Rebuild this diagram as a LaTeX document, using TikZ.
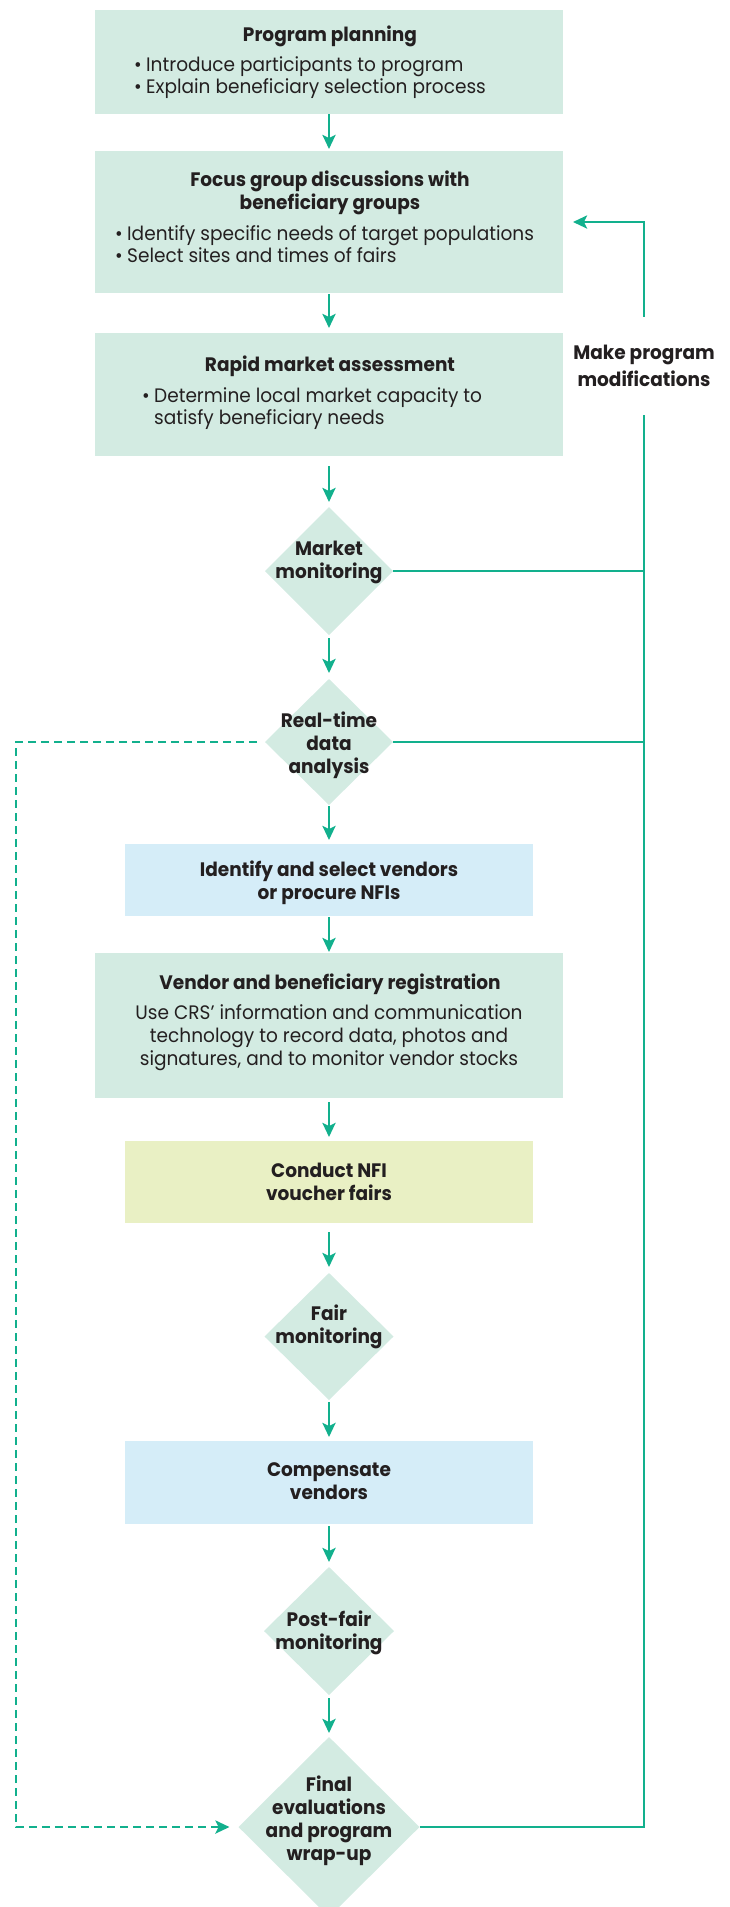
\documentclass[tikz,border=0pt]{standalone}
\usepackage{fontspec}
\setmainfont{Poppins}[FakeStretch=0.95]
\usetikzlibrary{arrows.meta,shapes.geometric}
\definecolor{mint}{HTML}{D3EBE2}
\definecolor{sky}{HTML}{D5EDF8}
\definecolor{lime}{HTML}{E9F0C4}
\definecolor{teal}{HTML}{12B08D}
\definecolor{ink}{HTML}{231F20}
\tikzset{
  boxbase/.style={inner sep=0pt, outer sep=0pt, draw=none},
  wide/.style={boxbase, minimum width=468pt},
  narrow/.style={boxbase, minimum width=408pt},
  dia/.style={shape=diamond, inner sep=0pt, outer sep=0pt, fill=mint, draw=none},
  ttl/.style={inner sep=0pt, text=ink, align=center, anchor=base,
    font=\fontsize{19.5}{23}\selectfont\bfseries},
  bodytxt/.style={inner sep=0pt, text=ink, align=left, anchor=base west,
    font=\fontsize{19.5}{22}\selectfont},
  conn/.style={draw=teal, line width=2.6pt},
  arr/.style={conn, -{Stealth[length=14pt,width=13pt,inset=3pt]}},
  dashline/.style={draw=teal, line width=2.6pt, dash pattern=on 8pt off 5pt,
    -{Stealth[length=14pt,width=13pt,inset=3pt]}},
}
\newcommand{\bul}{\makebox[12pt][l]{•}}
\begin{document}
\begin{tikzpicture}[x=1pt,y=-1pt]
\path[use as bounding box] (0,0) rectangle (729,1907);
\clip (0,0) rectangle (729,1907);
% boxes
\node[wide, fill=mint, minimum height=104pt] (b1) at (329,62) {};
\node[wide, fill=mint, minimum height=142pt] (b2) at (329,222) {};
\node[wide, fill=mint, minimum height=123pt] (b3) at (329,394.5) {};
\node[dia, minimum width=128pt, minimum height=128pt] (d1) at (329,571) {};
\node[dia, minimum width=128pt, minimum height=126pt] (d2) at (329,742) {};
\node[narrow, fill=sky, minimum height=72pt] (b4) at (329,880) {};
\node[wide, fill=mint, minimum height=145pt] (b5) at (329,1025.5) {};
\node[narrow, fill=lime, minimum height=82pt] (b6) at (329,1182) {};
\node[dia, minimum width=129pt, minimum height=127pt] (d3) at (329,1336.5) {};
\node[narrow, fill=sky, minimum height=83pt] (b7) at (329,1482.5) {};
\node[dia, minimum width=130pt, minimum height=128pt] (d4) at (329,1631) {};
\node[dia, minimum width=181pt, minimum height=180pt] (d5) at (329,1827) {};
% texts (anchor base = baseline of the last line)
\node[ttl] (t1) at (330,41.5) {Program planning};
\node[bodytxt] (l1) at (134,93) {\bul Introduce participants to program\\\bul Explain beneficiary selection process};
\node[ttl] (t2) at (330,209.5) {Focus group discussions with\\beneficiary groups};
\node[bodytxt] (l2) at (115,262) {\bul Identify specific needs of target populations\\\bul Select sites and times of fairs};
\node[ttl] (t3) at (330,371.5) {Rapid market assessment};
\node[bodytxt] (l3) at (142,424) {\bul Determine local market capacity to\\\hspace*{12pt}satisfy beneficiary needs};
\node[ttl] (t4) at (329,578) {Market\\monitoring};
\node[ttl] (t5) at (329,773) {Real-time\\data\\analysis};
\node[ttl] (t6) at (329,899) {Identify and select vendors\\or procure NFIs};
\node[ttl] (t7) at (330,989) {Vendor and beneficiary registration};
\node[inner sep=0pt, text=ink, align=center, anchor=base, font=\fontsize{19.5}{23}\selectfont] (l7) at (329,1065) {Use CRS’ information and communication\\technology to record data, photos and\\signatures, and to monitor vendor stocks};
\node[ttl] (t8) at (329,1200) {Conduct NFI\\voucher fairs};
\node[ttl] (t9) at (329,1343) {Fair\\monitoring};
\node[ttl] (t10) at (329,1499) {Compensate\\vendors};
\node[ttl] (t11) at (329,1649) {Post-fair\\monitoring};
\node[ttl] (t12) at (329,1860) {Final\\evaluations\\and program\\wrap-up};
\node[inner sep=0pt, text=ink, align=center, minimum height=98pt,
  font=\fontsize{19.5}{26.7}\selectfont\bfseries] (mk) at (644,366) {Make program\\modifications};
% main flow arrows
\draw[arr, shorten <=0pt, shorten >=2pt] (b1.south) -- (b2.north);
\draw[arr, shorten <=1pt, shorten >=5pt] (b2.south) -- (b3.north);
\draw[arr, shorten <=10pt, shorten >=5pt] (b3.south) -- (d1.north);
\draw[arr, shorten <=3pt, shorten >=6pt] (d1.south) -- (d2.north);
\draw[arr, shorten <=1pt, shorten >=4pt] (d2.south) -- (b4.north);
\draw[arr, shorten <=1pt, shorten >=1pt] (b4.south) -- (b5.north);
\draw[arr, shorten <=4pt, shorten >=4pt] (b5.south) -- (b6.north);
\draw[arr, shorten <=9pt, shorten >=6pt] (b6.south) -- (d3.north);
\draw[arr, shorten <=2pt, shorten >=4pt] (d3.south) -- (b7.north);
\draw[arr, shorten <=2pt, shorten >=5pt] (b7.south) -- (d4.north);
\draw[arr, shorten <=3pt, shorten >=4pt] (d4.south) -- (d5.north);
% feedback loop
\draw[conn] (d1.east) -- (d1.east -| mk.south);
\draw[conn] (d2.east) -- (d2.east -| mk.south);
\draw[conn] (d5.east) -| (mk.south);
\draw[arr, shorten >=10pt] (mk.north) |- (b2.east);
% dashed bypass
\coordinate (dl) at (16,742);
\draw[dashline, shorten <=8pt, shorten >=9pt] (d2.west) -- (dl) |- (d5.west);
\end{tikzpicture}
\end{document}
